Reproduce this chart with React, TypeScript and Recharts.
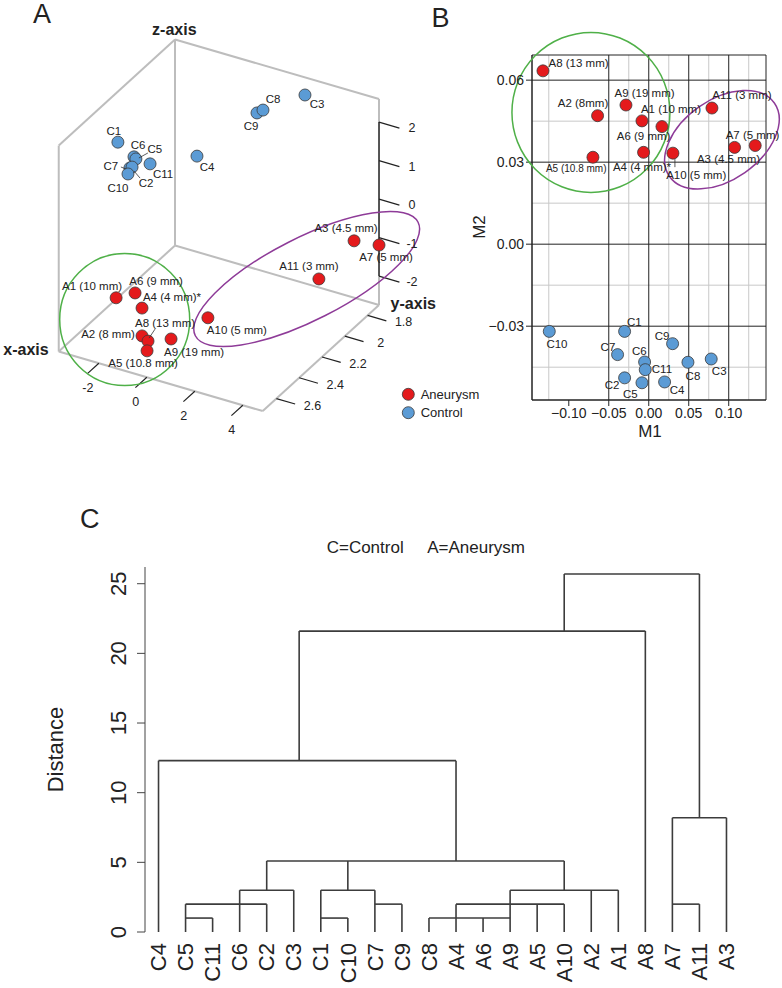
import {
  ScatterChart,
  Scatter,
  ComposedChart,
  XAxis,
  YAxis,
  CartesianGrid,
  ReferenceLine,
  ReferenceDot,
  ReferenceArea,
  Legend,
} from "recharts";

const FONT = '"Liberation Sans", Arial, Helvetica, sans-serif';
const RED = "#e41a1c";
const BLUE = "#5b9bd5";
const GREEN = "#4fb048";
const PURPLE = "#8e3b98";
const INK = "#222";

// ---------- Panel A: 3D coordinates ----------
const aneurysmNames3d = ["A1", "A6", "A4", "A2", "A8", "A5", "A9", "A10", "A11", "A3", "A7"];
const aneurysmLabels3d = ["A1 (10 mm)", "A6 (9 mm)", "A4 (4 mm)*", "A2 (8 mm)", "A8 (13 mm)", "A5 (10.8 mm)", "A9 (19 mm)", "A10 (5 mm)", "A11 (3 mm)", "A3 (4.5 mm)", "A7 (5 mm)"];
const aneurysmX3d = [-2.8, -2.01, -1.72, -0.77, -0.52, -0.56, 0.44, 0.55, 3.75, 4.74, 5.78];
const aneurysmY3d = [2.4, 2.4, 2.4, 2.6, 2.6, 2.6, 2.6, 2.3, 2.0, 1.9, 1.9];
const aneurysmZ3d = [-2.06, -1.79, -2.13, -2.14, -2.23, -2.49, -2.0, -2.24, -1.46, -0.56, -0.48];

const controlNames3d = ["C1", "C6", "C5", "C11", "C7", "C2", "C10", "C4", "C9", "C8", "C3"];
const controlX3d = [-3.2, -2.53, -2.45, -1.86, -2.7, -2.61, -2.78, -0.38, 0.22, 0.47, 2.22];
const controlY3d = [2.3, 2.3, 2.3, 2.3, 2.3, 2.3, 2.3, 2.2, 1.8, 1.8, 1.8];
const controlZ3d = [1.64, 1.38, 1.34, 1.32, 1.06, 1.1, 0.89, 1.52, 1.67, 1.79, 2.5];

const xTicks3d = [-2, 0, 2, 4];
const yTicks3d = [1.8, 2, 2.2, 2.4, 2.6];
const zTicks3d = [-2, -1, 0, 1, 2];

// ---------- Panel B: MDS coordinates ----------
const mdsAneurysmNames = ["A8", "A2", "A9", "A1", "A6", "A5", "A4", "A10", "A11", "A7", "A3"];
const mdsAneurysmLabels = ["A8 (13 mm)", "A2 (8mm)", "A9 (19 mm)", "A1 (10 mm)", "A6 (9 mm)", "A5 (10.8 mm)", "A4 (4 mm)*", "A10 (5 mm)", "A11 (3 mm)", "A7 (5 mm)", "A3 (4.5 mm)"];
const mdsAneurysmM1 = [-0.1323, -0.064, -0.0285, -0.0085, 0.0165, -0.0698, -0.0065, 0.0302, 0.079, 0.1331, 0.1073];
const mdsAneurysmM2 = [0.0634, 0.047, 0.0509, 0.0451, 0.043, 0.0318, 0.0336, 0.0333, 0.0498, 0.0361, 0.0354];

const mdsControlNames = ["C10", "C1", "C9", "C7", "C6", "C11", "C8", "C3", "C2", "C5", "C4"];
const mdsControlM1 = [-0.1244, -0.0302, 0.0298, -0.039, -0.0052, -0.0044, 0.049, 0.0781, -0.0302, -0.0085, 0.0198];
const mdsControlM2 = [-0.0319, -0.0319, -0.0364, -0.0404, -0.0431, -0.0459, -0.0432, -0.042, -0.0489, -0.0507, -0.0504];

const m1Ticks = [-0.1, -0.05, 0, 0.05, 0.1];
const m1Minor = [-0.125, -0.075, -0.025, 0.025, 0.075, 0.125];
const m2Ticks = [-0.03, 0, 0.03, 0.06];
const m2Minor = [-0.045, -0.015, 0.015, 0.045];

// ---------- Panel C: dendrogram ----------
const leafNames = ["C4", "C5", "C11", "C6", "C2", "C3", "C1", "C10", "C7", "C9", "C8", "A4", "A6", "A9", "A5", "A10", "A2", "A1", "A8", "A7", "A11", "A3"];
// [leaf position, from distance, to distance]
const verticalLinks = [
  [0, 0, 12.3], [1, 0, 2.0], [2, 0, 1.0], [3, 0, 3.0], [4, 0, 2.0], [4, 3.0, 5.1],
  [5, 0, 3.0], [6, 0, 3.0], [7, 0, 1.0], [7, 3.0, 5.1], [8, 0, 3.0], [9, 0, 2.0],
  [10, 0, 1.0], [11, 0, 2.0], [11, 5.1, 12.3], [12, 0, 1.0], [13, 0, 3.0], [14, 0, 2.0],
  [15, 0, 2.0], [15, 3.0, 5.1], [15, 21.6, 25.7], [16, 0, 3.0], [17, 0, 3.0], [18, 0, 21.6],
  [19, 0, 8.2], [20, 0, 2.0], [20, 8.2, 25.7], [21, 0, 8.2], [5.2, 12.3, 21.6],
];
// [distance, from position, to position]
const horizontalLinks = [
  [1.0, 1, 2], [2.0, 1, 4], [3.0, 3, 5], [1.0, 6, 7], [3.0, 6, 8], [2.0, 8, 9],
  [1.0, 10, 13], [2.0, 11, 15], [3.0, 13, 17], [5.1, 4, 15], [12.3, 0, 11],
  [21.6, 5.2, 18], [25.7, 15, 20], [2.0, 19, 20], [8.2, 19, 21],
];
const distanceTicks = [0, 5, 10, 15, 20, 25];

// ---------- layout helpers (not data) ----------
const BOX = { xMin: -3.67, xMax: 4.83, yMin: 1.7, yMax: 2.72, zMin: -2.75, zMax: 2.6 };

// oblique view used by the 3D panel
function project(x: number, y: number, z: number) {
  return { u: 456.9 + 24 * x - 114 * y, v: -11.5 + 7 * x + 104 * y - 38.5 * z };
}

const labelPosA: Record<string, { dx: number; dy: number; lead?: number[] }> = {
  C1: { dx: -4, dy: -11 }, C6: { dx: 4, dy: -12 }, C5: { dx: 19, dy: -10, lead: [12, -6, 3, -1] },
  C7: { dx: -19, dy: -2, lead: [-9, -1, -4, 1] }, C10: { dx: -10, dy: 14 },
  C2: { dx: 14, dy: 16, lead: [8, 11, 2, 4] }, C11: { dx: 13, dy: 10 }, C4: { dx: 10, dy: 11 },
  C9: { dx: -6, dy: 13 }, C8: { dx: 10, dy: -11 }, C3: { dx: 12, dy: 9 },
  A3: { dx: -8, dy: -13 }, A7: { dx: 7, dy: 12 }, A11: { dx: -10, dy: -13 },
  A1: { dx: -24, dy: -12 }, A6: { dx: 21, dy: -12 }, A4: { dx: 30, dy: -11 },
  A8: { dx: 17, dy: -18, lead: [7, -12, 1, -3] }, A2: { dx: -34, dy: -2 },
  A9: { dx: 23, dy: 13 }, A5: { dx: -4, dy: 12 }, A10: { dx: 29, dy: 12 },
};

const labelPosB: Record<string, { dx: number; dy: number; size?: number; lead?: number[] }> = {
  A8: { dx: 35.6, dy: -8.3 }, A2: { dx: -14.6, dy: -12.3 }, A9: { dx: 18.6, dy: -11.6 },
  A1: { dx: 29, dy: -12.3 }, A6: { dx: -18.4, dy: 9 }, A5: { dx: -16.7, dy: 11.6, size: 10 },
  A4: { dx: -1.6, dy: 14.3 }, A10: { dx: 23.3, dy: 22.3, lead: [2, 6, 2, 14] },
  A11: { dx: 30, dy: -13 }, A7: { dx: -2.7, dy: -10.7 }, A3: { dx: -6, dy: 11.6 },
  C10: { dx: 7.7, dy: 12.6 }, C1: { dx: 9.7, dy: -9.4 }, C9: { dx: -10.6, dy: -8 },
  C7: { dx: -9.6, dy: -7.3 }, C6: { dx: -5.3, dy: -10.6 }, C11: { dx: 16.7, dy: -1 },
  C8: { dx: 5, dy: 13.3 }, C3: { dx: 8, dy: 12.4 }, C2: { dx: -12.6, dy: 6.7 },
  C5: { dx: -11.7, dy: 11 }, C4: { dx: 12.4, dy: 7.7 },
};

const legendNames = ["Aneurysm", "Control"];
const legendColors = [RED, BLUE];

// ---------- derived tables ----------
const aneurysm3d = aneurysmNames3d.map((name, i) => ({
  name,
  label: aneurysmLabels3d[i],
  ...project(aneurysmX3d[i], aneurysmY3d[i], aneurysmZ3d[i]),
}));
const control3d = controlNames3d.map((name, i) => ({
  name,
  label: name,
  ...project(controlX3d[i], controlY3d[i], controlZ3d[i]),
}));

const { xMin, xMax, yMin, yMax, zMin, zMax } = BOX;
const boxEdges: number[][][] = [
  [[xMin, yMin, zMin], [xMax, yMin, zMin]],
  [[xMin, yMin, zMin], [xMin, yMax, zMin]],
  [[xMin, yMax, zMin], [xMax, yMax, zMin]],
  [[xMax, yMin, zMin], [xMax, yMax, zMin]],
  [[xMin, yMin, zMin], [xMin, yMin, zMax]],
  [[xMin, yMax, zMin], [xMin, yMax, zMax]],
  [[xMax, yMin, zMin], [xMax, yMin, zMax]],
  [[xMin, yMin, zMax], [xMin, yMax, zMax]],
  [[xMin, yMin, zMax], [xMax, yMin, zMax]],
];

const tickSegs3d: number[][][] = [
  ...xTicks3d.map((x) => [[x, yMax, zMin], [x, yMax + 0.1, zMin]]),
  ...yTicks3d.map((y) => [[xMax, y, zMin], [xMax + 0.78, y, zMin]]),
  ...zTicks3d.map((z) => [[xMax, yMin, z], [xMax + 0.85, yMin, z]]),
];

const tickLabels3d = [
  ...xTicks3d.map((x) => ({ text: String(x), dx: -11, dy: 25, ...project(x, yMax, zMin) })),
  ...yTicks3d.map((y) => ({ text: String(y), dx: 36, dy: 7, ...project(xMax, y, zMin) })),
  ...zTicks3d.map((z) => ({ text: String(z), dx: 33, dy: 6, ...project(xMax, yMin, z) })),
];

const mdsAneurysm = mdsAneurysmNames.map((name, i) => ({
  name,
  label: mdsAneurysmLabels[i],
  m1: mdsAneurysmM1[i],
  m2: mdsAneurysmM2[i],
}));
const mdsControl = mdsControlNames.map((name, i) => ({
  name,
  label: name,
  m1: mdsControlM1[i],
  m2: mdsControlM2[i],
}));

const leaves = leafNames.map((name, i) => ({ name, pos: i, h: 0 }));

const minus = (v: number) => v.toFixed(2).replace("-", "\u2212");

function dot(color: string) {
  return (p: any) => (
    <circle cx={p.cx} cy={p.cy} r={6} fill={color} stroke="#3a3a3a" strokeWidth={0.8} />
  );
}

function pointLabel(map: Record<string, any>, baseSize: number) {
  return (p: any) => {
    const pos = map[p.payload.name];
    if (!pos) return <g />;
    return (
      <g>
        {pos.lead && (
          <line
            x1={p.cx + pos.lead[0]}
            y1={p.cy + pos.lead[1]}
            x2={p.cx + pos.lead[2]}
            y2={p.cy + pos.lead[3]}
            stroke="#333"
            strokeWidth={0.8}
          />
        )}
        <text
          x={p.cx + pos.dx}
          y={p.cy + pos.dy}
          textAnchor="middle"
          dominantBaseline="central"
          fontSize={pos.size ?? baseSize}
          fill={INK}
          fontFamily={FONT}
        >
          {p.payload.label}
        </text>
      </g>
    );
  };
}

function Panel3D() {
  return (
    <ScatterChart width={470} height={440} margin={{ top: 0, right: 0, bottom: 0, left: 0 }}>
      <XAxis type="number" dataKey="u" domain={[0, 470]} hide />
      <YAxis type="number" dataKey="v" domain={[0, 440]} reversed hide />
      {boxEdges.map(([a, b], i) => {
        const p = project(a[0], a[1], a[2]);
        const q = project(b[0], b[1], b[2]);
        return (
          <ReferenceLine
            key={`box${i}`}
            segment={[{ x: p.u, y: p.v }, { x: q.u, y: q.v }]}
            stroke="#bdbdbd"
            strokeWidth={2}
            ifOverflow="visible"
          />
        );
      })}
      {(() => {
        const p = project(xMax, yMin, zTicks3d[0]);
        const q = project(xMax, yMin, zTicks3d[zTicks3d.length - 1]);
        return (
          <ReferenceLine
            segment={[{ x: p.u, y: p.v }, { x: q.u, y: q.v }]}
            stroke="#333"
            strokeWidth={1.5}
            ifOverflow="visible"
          />
        );
      })()}
      {tickSegs3d.map(([a, b], i) => {
        const p = project(a[0], a[1], a[2]);
        const q = project(b[0], b[1], b[2]);
        return (
          <ReferenceLine
            key={`tk${i}`}
            segment={[{ x: p.u, y: p.v }, { x: q.u, y: q.v }]}
            stroke="#222"
            strokeWidth={1.2}
            ifOverflow="visible"
          />
        );
      })}
      <ReferenceDot
        x={124.7}
        y={319.5}
        ifOverflow="visible"
        shape={(p: any) => (
          <ellipse cx={p.cx} cy={p.cy} rx={65} ry={66} fill="none" stroke={GREEN} strokeWidth={1.5} />
        )}
      />
      <ReferenceDot
        x={306.7}
        y={279}
        ifOverflow="visible"
        shape={(p: any) => (
          <ellipse
            cx={p.cx}
            cy={p.cy}
            rx={125}
            ry={41}
            fill="none"
            stroke={PURPLE}
            strokeWidth={1.5}
            transform={`rotate(-27 ${p.cx} ${p.cy})`}
          />
        )}
      />
      <Scatter
        data={tickLabels3d}
        isAnimationActive={false}
        shape={(p: any) => (
          <text
            x={p.cx + p.payload.dx}
            y={p.cy + p.payload.dy}
            textAnchor="middle"
            dominantBaseline="central"
            fontSize={12.5}
            fill={INK}
            fontFamily={FONT}
          >
            {p.payload.text}
          </text>
        )}
      />
      <Scatter name="Control" data={control3d} isAnimationActive={false} shape={dot(BLUE)} />
      <Scatter name="Aneurysm" data={aneurysm3d} isAnimationActive={false} shape={dot(RED)} />
      <Scatter data={control3d} isAnimationActive={false} shape={pointLabel(labelPosA, 11.5)} />
      <Scatter data={aneurysm3d} isAnimationActive={false} shape={pointLabel(labelPosA, 11.5)} />
      <Legend
        layout="vertical"
        verticalAlign="middle"
        align="center"
        wrapperStyle={{ left: 400, top: 386, width: 90, height: 34 }}
        content={() => (
          <svg width={90} height={34}>
            {legendNames.map((n, i) => (
              <g key={n}>
                <circle cx={8.3} cy={8.3 + i * 18.4} r={6} fill={legendColors[i]} stroke="#3a3a3a" strokeWidth={0.8} />
                <text x={20.7} y={8.3 + i * 18.4} dominantBaseline="central" fontSize={13} fill={INK} fontFamily={FONT}>
                  {n}
                </text>
              </g>
            ))}
          </svg>
        )}
      />
    </ScatterChart>
  );
}

function PanelMDS() {
  return (
    <ScatterChart width={312} height={440} margin={{ top: 55, right: 16, bottom: 10, left: 12 }}>
      <CartesianGrid
        verticalValues={m1Minor}
        horizontalValues={m2Minor}
        stroke="#c8c8c8"
        strokeDasharray="0"
      />
      <CartesianGrid
        verticalValues={m1Ticks}
        horizontalValues={m2Ticks}
        stroke="#222"
        strokeDasharray="0"
      />
      <XAxis
        type="number"
        dataKey="m1"
        domain={[-0.146, 0.1466]}
        ticks={m1Ticks}
        height={30}
        tickFormatter={minus}
        tick={{ fontSize: 14, fill: INK, fontFamily: FONT }}
        tickLine={{ stroke: "#222" }}
        axisLine={{ stroke: "#222" }}
        tickSize={6}
      />
      <YAxis
        type="number"
        dataKey="m2"
        domain={[-0.057, 0.0692]}
        ticks={m2Ticks}
        width={50}
        tickFormatter={minus}
        tick={{ fontSize: 14, fill: INK, fontFamily: FONT }}
        tickLine={{ stroke: "#222" }}
        axisLine={{ stroke: "#222" }}
        tickSize={6}
      />
      <ReferenceArea
        x1={-0.146}
        x2={0.1466}
        y1={-0.057}
        y2={0.0692}
        fill="none"
        stroke="#222"
        strokeWidth={1}
        ifOverflow="visible"
      />
      <ReferenceDot
        x={-0.0723}
        y={0.0482}
        ifOverflow="visible"
        shape={(p: any) => (
          <ellipse cx={p.cx} cy={p.cy} rx={79} ry={80} fill="none" stroke={GREEN} strokeWidth={1.5} />
        )}
      />
      <ReferenceDot
        x={0.0915}
        y={0.0382}
        ifOverflow="visible"
        shape={(p: any) => (
          <ellipse
            cx={p.cx}
            cy={p.cy}
            rx={64}
            ry={40}
            fill="none"
            stroke={PURPLE}
            strokeWidth={1.5}
            transform={`rotate(-35 ${p.cx} ${p.cy})`}
          />
        )}
      />
      <Scatter data={mdsControl} isAnimationActive={false} shape={dot(BLUE)} />
      <Scatter data={mdsAneurysm} isAnimationActive={false} shape={dot(RED)} />
      <Scatter data={mdsControl} isAnimationActive={false} shape={pointLabel(labelPosB, 11.5)} />
      <Scatter data={mdsAneurysm} isAnimationActive={false} shape={pointLabel(labelPosB, 11.5)} />
    </ScatterChart>
  );
}

function LeafTick(props: any) {
  const { x, y, payload } = props;
  const top = y + 3;
  return (
    <text
      x={x}
      y={top}
      transform={`rotate(-90 ${x} ${top})`}
      textAnchor="end"
      dy="0.35em"
      fontSize={22}
      fill={INK}
      fontFamily={FONT}
    >
      {leafNames[payload.value]}
    </text>
  );
}

function DistanceTick(props: any) {
  const { x, y, payload } = props;
  const cx = x - 17;
  return (
    <text
      x={cx}
      y={y}
      transform={`rotate(-90 ${cx} ${y})`}
      textAnchor="middle"
      dy="0.35em"
      fontSize={22}
      fill={INK}
      fontFamily={FONT}
    >
      {payload.value}
    </text>
  );
}

function PanelTree() {
  return (
    <ComposedChart width={782} height={468} margin={{ top: 47, right: 42, bottom: 0, left: 45 }}>
      <XAxis
        type="number"
        dataKey="pos"
        domain={[-0.5, 21.5]}
        ticks={leaves.map((l) => l.pos)}
        interval={0}
        height={56}
        axisLine={false}
        tickLine={false}
        tick={<LeafTick />}
      />
      <YAxis
        type="number"
        dataKey="h"
        domain={[0, 26.2]}
        ticks={distanceTicks}
        width={100}
        tickSize={8}
        axisLine={{ stroke: "#444" }}
        tickLine={{ stroke: "#444" }}
        tick={<DistanceTick />}
      />
      {verticalLinks.map(([pos, a, b], i) => (
        <ReferenceLine
          key={`v${i}`}
          segment={[{ x: pos, y: a }, { x: pos, y: b }]}
          stroke="#3c3c3c"
          strokeWidth={1.6}
          ifOverflow="visible"
        />
      ))}
      {horizontalLinks.map(([h, a, b], i) => (
        <ReferenceLine
          key={`h${i}`}
          segment={[{ x: a, y: h }, { x: b, y: h }]}
          stroke="#3c3c3c"
          strokeWidth={1.6}
          ifOverflow="visible"
        />
      ))}
      <Scatter data={leaves} isAnimationActive={false} shape={() => <g />} />
    </ComposedChart>
  );
}

export default function App() {
  return (
    <div
      style={{
        position: "absolute",
        left: 0,
        top: 0,
        width: 782,
        height: 988,
        background: "#fff",
        fontFamily: FONT,
        overflow: "hidden",
      }}
    >
      <div style={{ position: "absolute", left: 0, top: 0 }}>
        <Panel3D />
      </div>
      <div style={{ position: "absolute", left: 470, top: 0 }}>
        <PanelMDS />
      </div>
      <div style={{ position: "absolute", left: 0, top: 520 }}>
        <PanelTree />
      </div>
      <svg
        width={782}
        height={988}
        style={{ position: "absolute", left: 0, top: 0, pointerEvents: "none" }}
      >
        <g fontFamily={FONT} fill={INK}>
          <text x={33} y={23.3} fontSize={27}>A</text>
          <text x={431.5} y={27.3} fontSize={27}>B</text>
          <text x={80} y={528} fontSize={27}>C</text>
          <text x={174.3} y={29.3} fontSize={16} fontWeight="bold" textAnchor="middle" dominantBaseline="central">z-axis</text>
          <text x={413.3} y={303.3} fontSize={16} fontWeight="bold" textAnchor="middle" dominantBaseline="central">y-axis</text>
          <text x={26} y={349.3} fontSize={16} fontWeight="bold" textAnchor="middle" dominantBaseline="central">x-axis</text>
          <text x={650} y={431.7} fontSize={17} textAnchor="middle" dominantBaseline="central">M1</text>
          <text x={479.3} y={227} fontSize={17} textAnchor="middle" dominantBaseline="central" transform="rotate(-90 479.3 227)">M2</text>
          <text x={326.7} y={547} fontSize={17} dominantBaseline="central">C=Control</text>
          <text x={525} y={547} fontSize={17} textAnchor="end" dominantBaseline="central">A=Aneurysm</text>
          <text x={55} y={749.5} fontSize={22} textAnchor="middle" dy="0.35em" transform="rotate(-90 55 749.5)">Distance</text>
        </g>
      </svg>
    </div>
  );
}
